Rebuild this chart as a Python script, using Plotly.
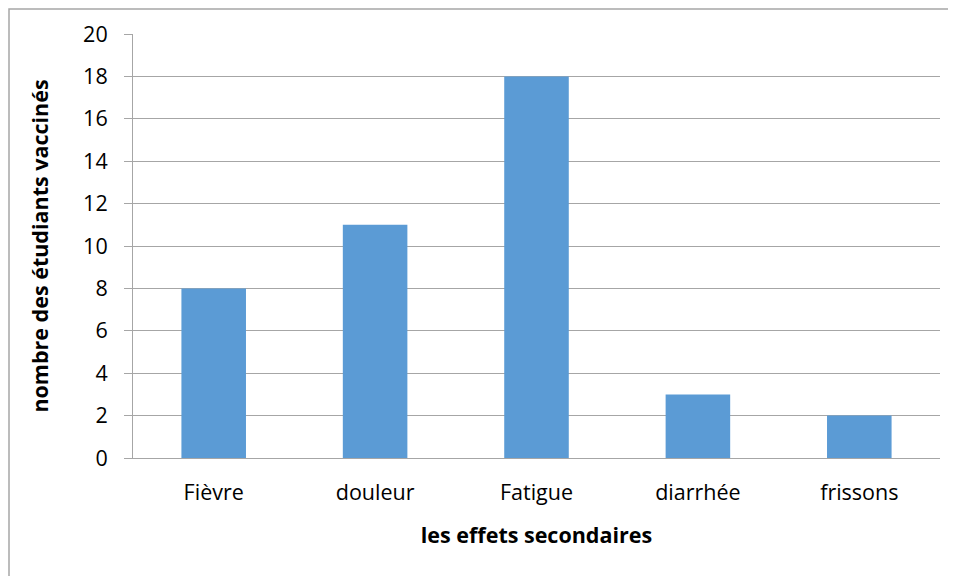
import plotly.graph_objects as go

categories = ["Fièvre", "douleur", "Fatigue", "diarrhée", "frissons"]
values = [8, 11, 18, 3, 2]
y_ticks = [0, 2, 4, 6, 8, 10, 12, 14, 16, 18, 20]

W, H = 948, 568
L, T = 125, 26
pw, ph = 807, 424
R, B = W - L - pw, H - T - ph

fig = go.Figure(go.Bar(x=categories, y=values, marker=dict(color="#5B9BD5", line=dict(width=0)), width=0.4))

font_fam = "Open Sans, Noto Sans, sans-serif"
fig.update_layout(
    width=W, height=H,
    margin=dict(l=L, r=R, t=T, b=B),
    paper_bgcolor="white", plot_bgcolor="white",
    font=dict(family=font_fam, color="black", size=21),
    showlegend=False,
    xaxis=dict(
        showline=True, linecolor="#A6A6A6", linewidth=1,
        ticks="", tickfont=dict(size=21.5), ticklabelstandoff=15,
        title=dict(text="<b>les effets secondaires</b>", font=dict(size=21.5), standoff=23),
        range=[-0.5, 4.5],
    ),
    yaxis=dict(
        range=[0, 20], tickvals=y_ticks, showgrid=True, gridcolor="#A6A6A6", gridwidth=1,
        showline=True, linecolor="#A6A6A6", linewidth=1,
        ticks="outside", ticklen=8, tickcolor="#A6A6A6",
        tickfont=dict(size=21.5), ticklabelstandoff=12,
        title=dict(text="<b>nombre des étudiants vaccinés</b>", font=dict(size=21.5), standoff=28),
        zeroline=False,
    ),
    shapes=[dict(type="rect", xref="paper", yref="paper",
                 x0=(1 - L) / pw, x1=(W + 5 - L) / pw,
                 y0=-(H + 5 - T - ph) / ph, y1=(T + ph - 1) / ph,
                 line=dict(color="#A6A6A6", width=1.5), fillcolor="rgba(0,0,0,0)", layer="below")],
)

fig.write_html("out.html")
